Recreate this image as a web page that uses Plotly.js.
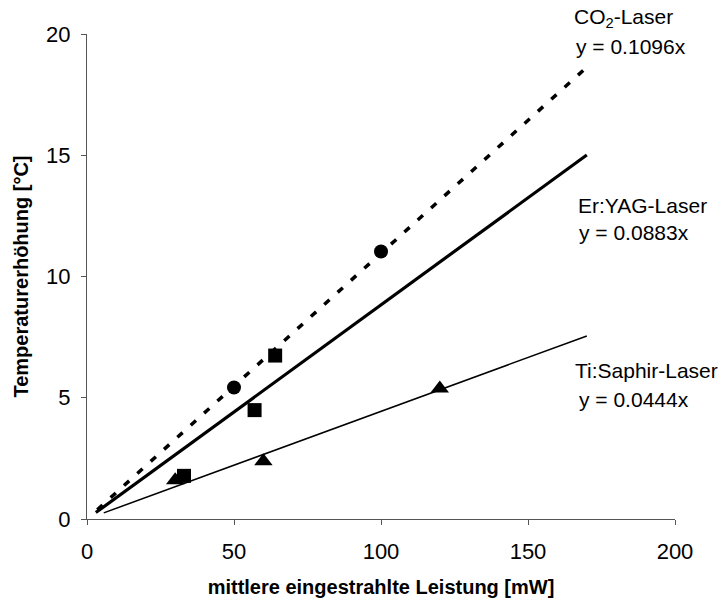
<!DOCTYPE html>
<html>
<head>
<meta charset="utf-8">
<script src="https://cdn.plot.ly/plotly-3.0.1.min.js"></script>
<style>html,body{margin:0;padding:0;background:#fff;}#chart{width:718px;height:601px;}</style>
</head>
<body>
<div id="chart"></div>
<script>
// Series names and measured points
var seriesNames = ["CO<sub>2</sub>-Laser", "Er:YAG-Laser", "Ti:Saphir-Laser"];
var co2X = [50, 100];
var co2Y = [5.42, 11.03];
var eryagX = [33, 57, 64];
var eryagY = [1.78, 4.49, 6.74];
var tisaphX = [30, 60, 120];
var tisaphY = [1.6, 2.38, 5.38];
// Trendline slopes (y = a*x) and extent of each trendline
var slopes = [0.1096, 0.0883, 0.0444];
var trendStart = [3.5, 3, 5.7];
var trendEnd = [170, 170, 170];
var xTicks = [0, 50, 100, 150, 200];
var yTicks = [0, 5, 10, 15, 20];

var markerSymbols = ["circle", "square", "triangle-up"];
var markerSizes = [14, 14, 16];
var lineStyles = [
  {color: "#000", width: 3.5, dash: "7px,11px"},
  {color: "#000", width: 3.2, dash: "solid"},
  {color: "#000", width: 1.5, dash: "solid"}
];
var ptsX = [co2X, eryagX, tisaphX];
var ptsY = [co2Y, eryagY, tisaphY];

var traces = [];
for (var i = 0; i < 3; i++) {
  var tx = [trendStart[i], trendEnd[i]];
  traces.push({
    x: tx, y: tx.map(function (v) { return slopes[i] * v; }),
    mode: "lines", line: lineStyles[i], hoverinfo: "skip", showlegend: false
  });
}
for (var j = 0; j < 3; j++) {
  traces.push({
    x: ptsX[j], y: ptsY[j], mode: "markers", name: seriesNames[j],
    marker: {symbol: markerSymbols[j], size: markerSizes[j], color: "#000"},
    showlegend: false
  });
}

// label positions (paper coords, left aligned)
var labelPos = [
  {x1: 0.825, y1: 1.033, x2: 0.828, y2: 0.975},
  {x1: 0.832, y1: 0.647, x2: 0.833, y2: 0.590},
  {x1: 0.827, y1: 0.307, x2: 0.833, y2: 0.247}
];
var annotations = [];
for (var k = 0; k < 3; k++) {
  annotations.push({x: labelPos[k].x1, y: labelPos[k].y1, xref: "paper", yref: "paper", text: seriesNames[k],
    showarrow: false, xanchor: "left", yanchor: "middle", font: {size: 21, color: "#000"}});
  annotations.push({x: labelPos[k].x2, y: labelPos[k].y2, xref: "paper", yref: "paper",
    text: "y = " + slopes[k] + "x",
    showarrow: false, xanchor: "left", yanchor: "middle", font: {size: 21, color: "#000"}});
}

var layout = {
  width: 718, height: 601,
  margin: {l: 87, r: 43, t: 34, b: 82, pad: 0},
  paper_bgcolor: "#fff", plot_bgcolor: "#fff",
  font: {family: "Liberation Sans, Arial, sans-serif", color: "#000"},
  showlegend: false,
  xaxis: {
    range: [0, 200], tickvals: xTicks, ticktext: xTicks.map(String),
    showgrid: false, zeroline: false, showline: true, linecolor: "#555", linewidth: 1,
    ticks: "outside", ticklen: 5, tickcolor: "#555", tickfont: {size: 22},
    ticklabelstandoff: 8,
    title: {text: "<b>mittlere eingestrahlte Leistung [mW]</b>", font: {size: 20}, standoff: 16}
  },
  yaxis: {
    range: [0, 20], tickvals: yTicks, ticktext: yTicks.map(String),
    showgrid: false, zeroline: false, showline: true, linecolor: "#555", linewidth: 1,
    ticks: "outside", ticklen: 5, tickcolor: "#555", tickfont: {size: 22},
    ticklabelstandoff: 6,
    title: {text: "<b>Temperaturerhöhung [°C]</b>", font: {size: 20}, standoff: 12}
  },
  annotations: annotations
};

Plotly.newPlot("chart", traces, layout, {displayModeBar: false, staticPlot: true});
</script>
</body>
</html>
